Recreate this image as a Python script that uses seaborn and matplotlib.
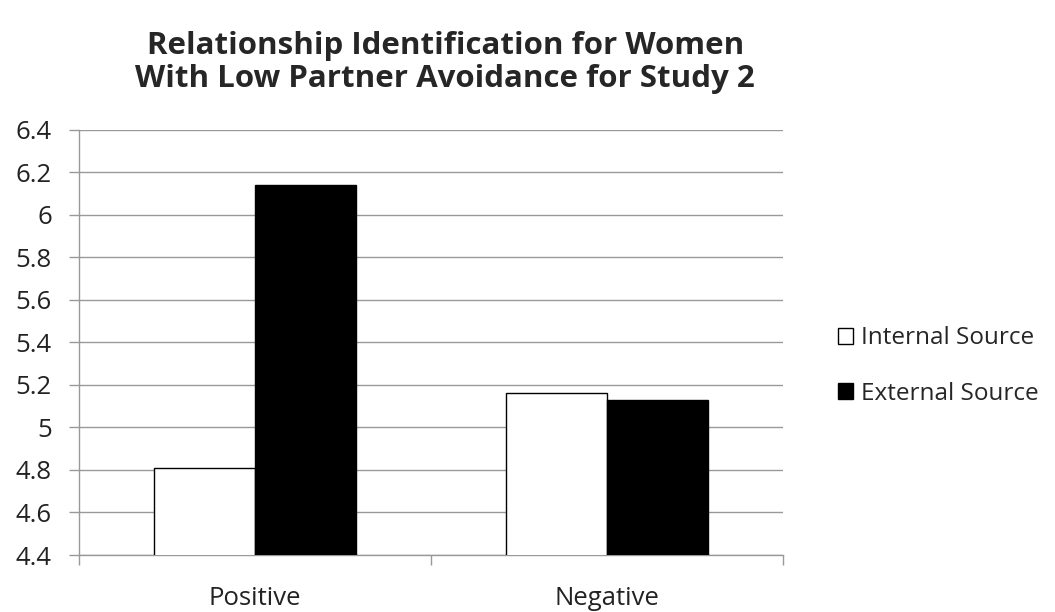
import matplotlib
matplotlib.use("Agg")
import matplotlib.pyplot as plt
import seaborn as sns
import pandas as pd
from matplotlib.patches import Patch

# Values
categories = ["Positive", "Negative"]
sources = ["Internal Source", "External Source"]
internal_vals = [4.81, 5.16]
external_vals = [6.14, 5.13]
y_ticks = [4.4, 4.6, 4.8, 5, 5.2, 5.4, 5.6, 5.8, 6, 6.2, 6.4]
y_labels = ["4.4", "4.6", "4.8", "5", "5.2", "5.4", "5.6", "5.8", "6", "6.2", "6.4"]

df = pd.DataFrame({
    "Valence": categories * 2,
    "Source": [sources[0]] * 2 + [sources[1]] * 2,
    "Score": internal_vals + external_vals,
})

sns.set_style("white", {"xtick.bottom": True, "ytick.left": True})
plt.rcParams["font.family"] = ["Open Sans", "DejaVu Sans"]

fig = plt.figure(figsize=(10.55, 6.12), dpi=100)
ax = fig.add_axes([0.0749, 0.0931, 0.667, 0.695])

sns.barplot(data=df, x="Valence", y="Score", hue="Source",
            palette=["white", "black"], edgecolor="black", linewidth=1,
            width=0.575, ax=ax, legend=False, zorder=3)

ax.set_ylim(4.4, 6.4)
ax.set_xlim(-0.5, 1.5)
ax.set_yticks(y_ticks)
ax.set_yticklabels(y_labels, fontsize=18.5, color="#222222")
ax.yaxis.grid(True, color="#999999", linewidth=1, zorder=0)
ax.set_axisbelow(True)
ax.tick_params(axis="y", left=True, length=7.5, width=1, color="#999999", pad=12)

ax.set_xticks([0, 1])
ax.set_xticklabels(categories, fontsize=18.5, color="#222222")
ax.set_xticks([-0.5, 0.5, 1.5], minor=True)
ax.tick_params(axis="x", which="major", bottom=True, length=0, pad=22)
ax.tick_params(axis="x", which="minor", bottom=True, length=7.5, width=1, color="#999999")
ax.set_xlabel("")
ax.set_ylabel("")

for side in ["top", "right"]:
    ax.spines[side].set_visible(False)
for side in ["left", "bottom"]:
    ax.spines[side].set_color("#999999")
    ax.spines[side].set_linewidth(1)

fig.suptitle("Relationship Identification for Women\nWith Low Partner Avoidance for Study 2",
             x=0.422, y=0.95, fontsize=22.5, fontweight="bold", linespacing=1.15)

handles = [Patch(facecolor="white", edgecolor="black", label=sources[0]),
           Patch(facecolor="black", edgecolor="black", label=sources[1])]
fig.legend(handles=handles, loc="center left", bbox_to_anchor=(0.794, 0.402),
           frameon=False, fontsize=17.5, handlelength=0.65, handleheight=0.65,
           handletextpad=0.3, labelspacing=1.3, borderpad=0, borderaxespad=0)

fig.savefig("out.png", dpi=100)
